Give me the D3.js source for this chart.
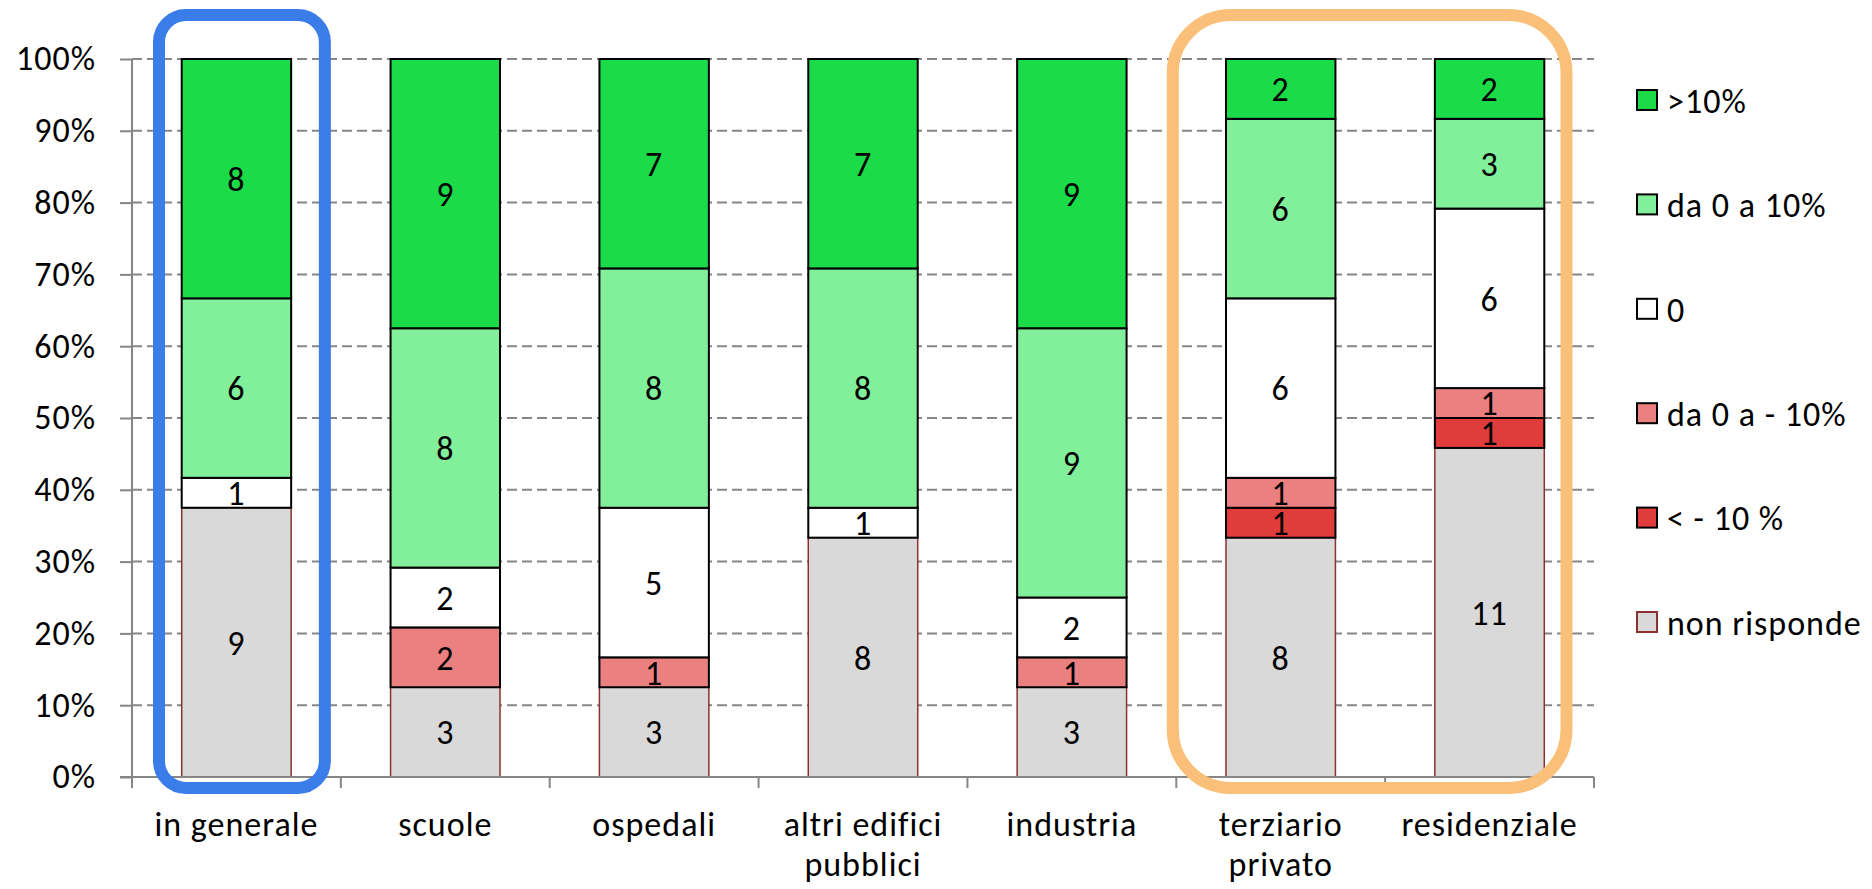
<!DOCTYPE html>
<html lang="it">
  <head>
    <meta charset="utf-8">
    <title>Variazione consumi</title>
    <script src="https://cdn.jsdelivr.net/npm/d3@7"></script>
    <style>
      body { margin: 0; background: #fff; }
      svg text { font-family: Carlito, Calibri, Lato, sans-serif; fill: #000; letter-spacing: 1px; }
    </style>
  </head>
  <body>
    <div id="chart"></div>

    <script type="text/javascript">
      // categories (two lines where the label wraps)
      let categories = ['in generale', 'scuole', 'ospedali', 'altri edifici pubblici', 'industria', 'terziario privato', 'residenziale']
      let categoryLines = [['in generale'], ['scuole'], ['ospedali'], ['altri edifici', 'pubblici'], ['industria'], ['terziario', 'privato'], ['residenziale']]

      // counts per series, bottom of the stack first
      let nonRisponde = [9, 3, 3, 8, 3, 8, 11]
      let menoDieci   = [0, 0, 0, 0, 0, 1, 1]
      let da0aMeno10  = [0, 2, 1, 0, 1, 1, 1]
      let zero        = [1, 2, 5, 1, 2, 6, 6]
      let da0a10      = [6, 8, 8, 8, 9, 6, 3]
      let piuDieci    = [8, 9, 7, 7, 9, 2, 2]

      let seriesNames = ['non risponde', '< - 10 %', 'da 0 a - 10%', '0', 'da 0 a 10%', '>10%']
      let seriesValues = [nonRisponde, menoDieci, da0aMeno10, zero, da0a10, piuDieci]
      let seriesFill = ['#d9d9d9', '#e03c3c', '#eb8080', '#ffffff', '#82f09a', '#1bdb48']
      let seriesStroke = ['#8c3030', '#000', '#000', '#000', '#000', '#000']
      let seriesStrokeWidth = [1.5, 2, 2, 2, 2, 2]

      let yTicks = [0, 0.1, 0.2, 0.3, 0.4, 0.5, 0.6, 0.7, 0.8, 0.9, 1]

      let fontSize = '34px'

      // build the table for d3.stack
      let table = categories.map((c, i) => {
        let row = {category: c}
        seriesNames.forEach((s, j) => { row[s] = seriesValues[j][i] })
        return row
      })

      let width = 1872
      let height = 889
      let margin = {top: 59, right: 278, bottom: 112, left: 132}
      let plotW = width - margin.left - margin.right
      let plotH = height - margin.top - margin.bottom

      let svg = d3.select('#chart').append('svg')
        .attr('width', width)
        .attr('height', height)

      let canvas = svg.append('g')
        .attr('transform', 'translate(' + margin.left + ',' + margin.top + ')')

      let scale_x = d3.scaleBand()
        .domain(categories)
        .range([0, plotW])
        .paddingInner(0.476)
        .paddingOuter(0.238)

      let scale_y = d3.scaleLinear()
        .domain([0, 1])
        .range([plotH, 0])

      let stacked = d3.stack()
        .keys(seriesNames)
        .offset(d3.stackOffsetExpand)(table)

      // gridlines
      canvas.append('g')
        .selectAll('line')
        .data(yTicks.slice(1))
        .enter()
        .append('line')
        .attr('x1', 0)
        .attr('x2', plotW)
        .attr('y1', (d) => scale_y(d))
        .attr('y2', (d) => scale_y(d))
        .attr('stroke', '#868686')
        .attr('stroke-width', 2)
        .attr('stroke-dasharray', '10,5')

      // bars
      let layers = canvas.selectAll('g.layer')
        .data(stacked)
        .enter()
        .append('g')
        .attr('class', 'layer')

      layers.selectAll('rect')
        .data((d) => d.map((p) => ({p: p, key: d.key, idx: d.index})))
        .enter()
        .filter((d) => d.p[1] - d.p[0] > 0)
        .append('rect')
        .attr('x', (d) => scale_x(d.p.data.category))
        .attr('y', (d) => scale_y(d.p[1]))
        .attr('width', scale_x.bandwidth())
        .attr('height', (d) => scale_y(d.p[0]) - scale_y(d.p[1]))
        .attr('fill', (d) => seriesFill[d.idx])
        .attr('stroke', (d) => seriesStroke[d.idx])
        .attr('stroke-width', (d) => seriesStrokeWidth[d.idx])

      layers.selectAll('text')
        .data((d) => d.map((p) => ({p: p, key: d.key})))
        .enter()
        .filter((d) => d.p.data[d.key] > 0)
        .append('text')
        .attr('x', (d) => scale_x(d.p.data.category) + scale_x.bandwidth() / 2)
        .attr('y', (d) => (scale_y(d.p[0]) + scale_y(d.p[1])) / 2)
        .attr('dy', '0.36em')
        .attr('text-anchor', 'middle')
        .attr('font-size', fontSize)
        .text((d) => d.p.data[d.key])

      // y axis
      let y_axis = d3.axisLeft(scale_y)
        .tickValues(yTicks)
        .tickFormat(d3.format('.0%'))
        .tickSize(12)
        .tickPadding(24)
      let gy = canvas.append('g').call(y_axis)
      gy.select('.domain').remove()
      gy.selectAll('line').attr('stroke', '#868686').attr('stroke-width', 2)
      gy.selectAll('text').attr('font-size', fontSize).attr('font-family', null)
      canvas.append('line')
        .attr('x1', 0).attr('x2', 0)
        .attr('y1', 0).attr('y2', plotH + 11)
        .attr('stroke', '#868686').attr('stroke-width', 2)

      // x axis
      let x_axis = d3.axisBottom(scale_x).tickSize(0).tickPadding(0)
      let gx = canvas.append('g')
        .attr('transform', 'translate(0,' + plotH + ')')
        .call(x_axis)
      gx.select('.domain').remove()
      gx.append('line')
        .attr('x1', -12).attr('x2', plotW)
        .attr('stroke', '#868686').attr('stroke-width', 2)
      let edge = (scale_x.step() - scale_x.bandwidth()) / 2
      gx.selectAll('line.cut')
        .data(categories)
        .enter()
        .append('line')
        .attr('class', 'cut')
        .attr('x1', (d) => scale_x(d) + scale_x.bandwidth() + edge)
        .attr('x2', (d) => scale_x(d) + scale_x.bandwidth() + edge)
        .attr('y1', 0).attr('y2', 11)
        .attr('stroke', '#868686').attr('stroke-width', 2)
      gx.selectAll('.tick text')
        .attr('font-size', fontSize)
        .attr('font-family', null)
        .attr('y', null)
        .attr('dy', null)
        .text(null)
        .each(function (d, i) {
          let t = d3.select(this)
          categoryLines[i].forEach((line, k) => {
            t.append('tspan').attr('x', 0).attr('y', 59 + k * 40).text(line)
          })
        })

      // highlight boxes
      let step = scale_x.step()
      let x0 = scale_x(categories[0]) - edge
      canvas.append('rect')
        .attr('x', x0 + 27)
        .attr('y', scale_y(1) - 44)
        .attr('width', step - 43)
        .attr('height', plotH + 55)
        .attr('rx', 27)
        .attr('fill', 'none')
        .attr('stroke', '#3a7de8')
        .attr('stroke-width', 12)

      let x5 = scale_x(categories[5]) - edge
      canvas.append('rect')
        .attr('x', x5 - 3.5)
        .attr('y', scale_y(1) - 44)
        .attr('width', 2 * step - 24)
        .attr('height', plotH + 55)
        .attr('rx', 58)
        .attr('fill', 'none')
        .attr('stroke', '#fac07a')
        .attr('stroke-width', 12)

      // legend
      let legendOrder = seriesNames.map((s, j) => j).reverse()
      let legend = svg.append('g')
        .attr('transform', 'translate(1637,100.5)')
      let item = legend.selectAll('g')
        .data(legendOrder)
        .enter()
        .append('g')
        .attr('transform', (d, i) => 'translate(0,' + (i * 104.4) + ')')
      item.append('rect')
        .attr('x', 0).attr('y', -10.5)
        .attr('width', 20).attr('height', 20)
        .attr('fill', (d) => seriesFill[d])
        .attr('stroke', (d) => d === 0 ? '#8c3030' : '#000')
        .attr('stroke-width', 2)
      item.append('text')
        .attr('x', 30)
        .attr('dy', '0.36em')
        .attr('font-size', fontSize)
        .text((d) => seriesNames[d])
    </script>
  </body>
</html>
